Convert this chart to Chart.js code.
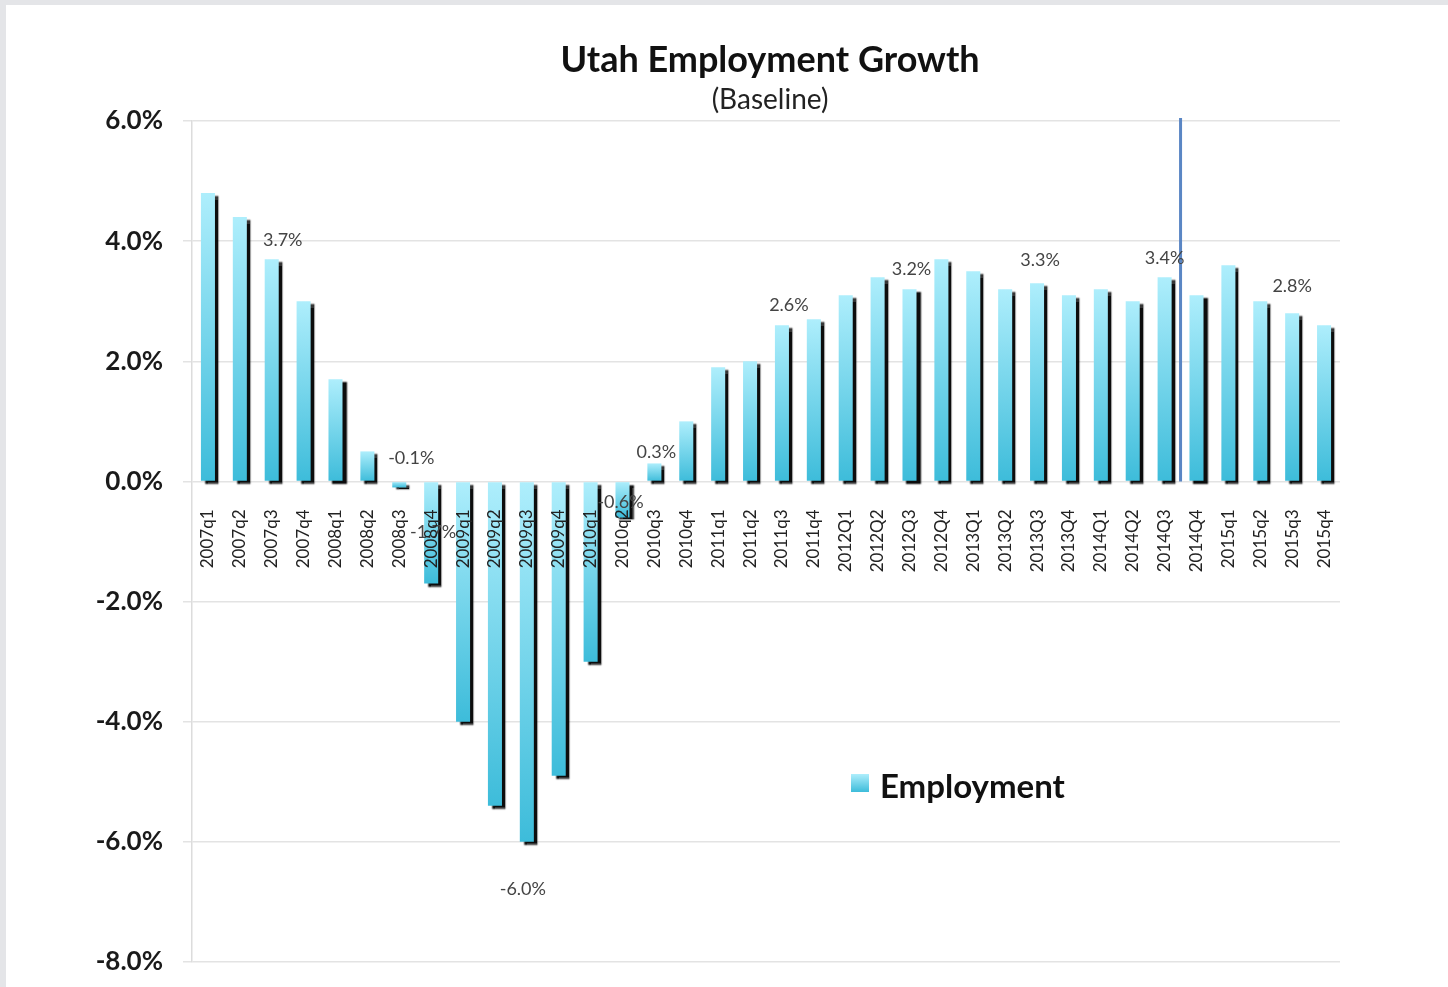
<!DOCTYPE html>
<html><head><meta charset="utf-8">
<script src="https://cdn.jsdelivr.net/npm/chart.js@4.4.1/dist/chart.umd.min.js"></script>
<style>
html,body{margin:0;padding:0;background:#e4e5e8;width:1448px;height:987px;overflow:hidden}
#wrap{position:absolute;left:6px;top:5px;width:1442px;height:982px;background:#fff}
canvas{display:block}
</style></head><body>
<div id="wrap"><canvas id="c" width="1442" height="982"></canvas></div>
<script>
const titleText = 'Utah Employment Growth';
const subtitleText = '(Baseline)';
const seriesName = 'Employment';
const categories = ['2007q1','2007q2','2007q3','2007q4','2008q1','2008q2','2008q3','2008q4',
  '2009q1','2009q2','2009q3','2009q4','2010q1','2010q2','2010q3','2010q4',
  '2011q1','2011q2','2011q3','2011q4','2012Q1','2012Q2','2012Q3','2012Q4',
  '2013Q1','2013Q2','2013Q3','2013Q4','2014Q1','2014Q2','2014Q3','2014Q4',
  '2015q1','2015q2','2015q3','2015q4'];
const employment = [4.8,4.4,3.7,3.0, 1.7,0.5,-0.1,-1.7, -4.0,-5.4,-6.0,-4.9, -3.0,-0.6,0.3,1.0,
  1.9,2.0,2.6,2.7, 3.1,3.4,3.2,3.7, 3.5,3.2,3.3,3.1, 3.2,3.0,3.4,3.1, 3.6,3.0,2.8,2.6];
const labelledCategories = ['2007q3','2008q3','2008q4','2009q3','2010q2','2010q3','2011q3','2012Q3','2013Q3','2014Q3','2015q3'];
const yTickValues = [6,4,2,0,-2,-4,-6,-8];
const lastActual = '2014Q3';

// label placement offsets (style only): [dx, dy] relative to bar end
const labelOffsets = {2:[11,-19],6:[12,-29],7:[2,-51],10:[-4,47],13:[-2,-15],14:[2,-11],18:[7,-20],22:[2,-20],26:[3,-23],30:[0,-19],34:[0,-27]};

function barGradient(ctx, top, bot){
  const g = ctx.createLinearGradient(0, top, 0, bot);
  g.addColorStop(0, '#aeeefc');
  g.addColorStop(1, '#3dbcda');
  return g;
}

const decor = {
  id: 'decor',
  beforeDatasetsDraw(chart){
    const ctx = chart.ctx;
    ctx.save();
    ctx.shadowColor = 'rgba(0,0,0,0.95)';
    ctx.shadowOffsetX = 4;
    ctx.shadowOffsetY = 3;
    ctx.shadowBlur = 1.5;
  },
  afterDatasetsDraw(chart){
    const ctx = chart.ctx;
    ctx.restore();
    const x = chart.scales.x, y = chart.scales.y, area = chart.chartArea;
    const meta = chart.getDatasetMeta(0);
    const i = categories.indexOf(lastActual);
    const lx = (x.getPixelForValue(i) + x.getPixelForValue(i+1)) / 2;
    ctx.save();
    ctx.strokeStyle = '#5a86c4';
    ctx.lineWidth = 3;
    ctx.beginPath();
    ctx.moveTo(lx, area.top - 3);
    ctx.lineTo(lx, y.getPixelForValue(0));
    ctx.stroke();
    ctx.font = '18px Lato';
    ctx.fillStyle = '#444';
    ctx.textAlign = 'center';
    ctx.textBaseline = 'middle';
    labelledCategories.forEach(cat => {
      const idx = categories.indexOf(cat);
      const el = meta.data[idx];
      const off = labelOffsets[idx] || [0, -20];
      ctx.fillText(employment[idx].toFixed(1) + '%', el.x + off[0], el.y + off[1]);
    });
    ctx.restore();
  },
  afterDraw(chart){
    const ctx = chart.ctx;
    ctx.save();
    ctx.textAlign = 'center';
    ctx.textBaseline = 'middle';
    ctx.fillStyle = '#111';
    ctx.font = 'bold 36px Lato';
    ctx.fillText(titleText, 764, 55);
    ctx.fillStyle = '#222';
    ctx.font = '28px Lato';
    ctx.fillText(subtitleText, 764, 95);
    ctx.fillStyle = barGradient(ctx, 769, 787);
    ctx.fillRect(845, 769, 18, 18);
    ctx.textAlign = 'left';
    ctx.fillStyle = '#111';
    ctx.font = 'bold 33px Lato';
    ctx.fillText(seriesName, 874, 782);
    ctx.restore();
  }
};

new Chart(document.getElementById('c'), {
  type: 'bar',
  data: {
    labels: categories,
    datasets: [{
      label: seriesName,
      data: employment,
      backgroundColor: (c) => {
        const chart = c.chart, y = chart.scales.y;
        if (!chart.chartArea || !y || c.raw === undefined) return '#6fd3ea';
        const p0 = y.getPixelForValue(0), p1 = y.getPixelForValue(c.raw);
        const top = Math.min(p0, p1), bot = Math.max(p0, p1);
        if (bot - top < 1) return '#8fe0f2';
        return barGradient(chart.ctx, top, bot);
      },
      borderWidth: 0,
      barPercentage: 0.44,
      categoryPercentage: 1.0
    }]
  },
  options: {
    responsive: false,
    devicePixelRatio: 1,
    animation: false,
    layout: { padding: { top: 116, bottom: 25, right: 108, left: 0 } },
    plugins: { legend: { display: false }, tooltip: { enabled: false }, title: { display: false } },
    scales: {
      x: {
        position: { y: 0 },
        grid: { display: false, drawTicks: false },
        border: { display: false },
        ticks: { z: 1, autoSkip: false, minRotation: 90, maxRotation: 90, padding: 28,
                 font: { family: 'Lato', size: 17 }, color: '#222' }
      },
      y: {
        min: -8, max: 6,
        afterBuildTicks: (s) => { s.ticks = yTickValues.map(v => ({ value: v })); },
        afterFit: (s) => { s.width = 186; s.paddingTop = 0; s.paddingBottom = 0; },
        grid: { color: '#e3e3e3', lineWidth: 1.5, tickLength: 9 },
        border: { color: '#dcdcdc', width: 1.5 },
        ticks: { padding: 20, font: { family: 'Lato', size: 26, weight: 'bold' }, color: '#1a1a1a',
                 callback: (v) => Number(v).toFixed(1) + '%' }
      }
    }
  },
  plugins: [decor]
});
</script>
</body></html>
